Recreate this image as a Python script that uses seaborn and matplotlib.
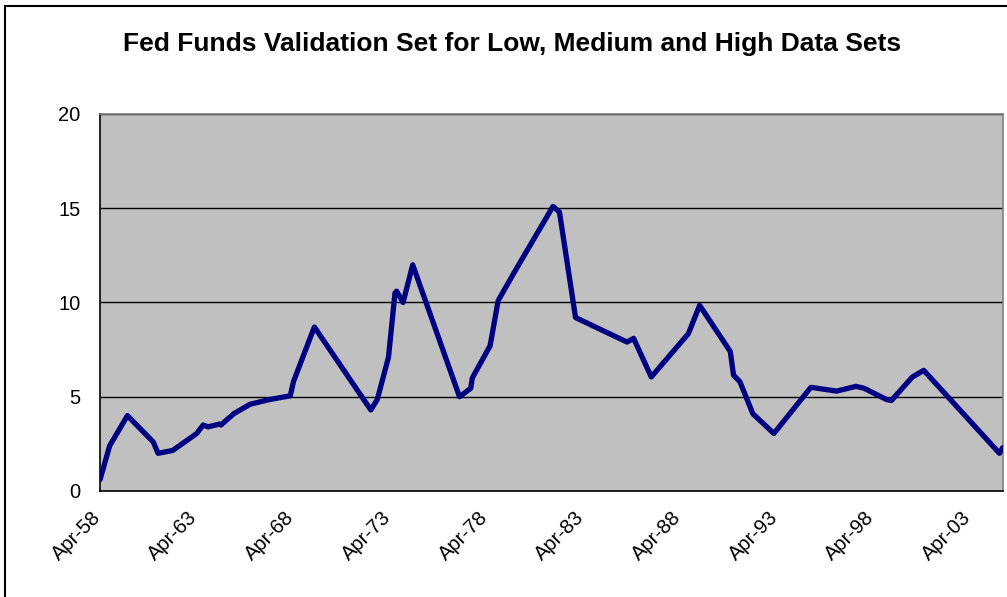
import pandas as pd
import numpy as np
import matplotlib
matplotlib.use('Agg')
import matplotlib.pyplot as plt
import matplotlib.dates as mdates
from matplotlib.patches import Rectangle
from matplotlib.transforms import ScaledTranslation
import seaborn as sns

# Fed funds readings (month, rate %)
months = [
    '1958-04', '1958-10', '1959-09', '1961-01', '1961-04', '1962-01',
    '1963-04', '1963-08', '1963-11', '1964-06', '1964-07', '1965-03',
    '1966-01', '1967-01', '1968-02', '1968-04', '1969-05', '1972-04',
    '1972-08', '1973-03', '1973-07', '1973-08', '1973-12', '1974-06',
    '1976-11', '1977-06', '1977-07', '1978-06', '1978-11', '1979-09',
    '1981-09', '1982-01', '1982-11', '1985-07', '1985-11', '1986-10',
    '1988-09', '1989-04', '1990-11', '1991-01', '1991-05', '1992-01',
    '1993-02', '1995-01', '1996-05', '1997-05', '1997-10', '1998-12',
    '1999-03', '2000-04', '2000-11', '2004-10', '2004-12',
]
rates = [
    0.6, 2.4, 4.0, 2.6, 2.0, 2.15,
    3.05, 3.5, 3.4, 3.55, 3.5, 4.1,
    4.6, 4.85, 5.05, 5.8, 8.7, 4.3,
    4.85, 7.1, 10.5, 10.6, 10.0, 12.0,
    5.0, 5.45, 6.0, 7.7, 10.1, 11.6,
    15.1, 14.8, 9.2, 7.9, 8.1, 6.05,
    8.35, 9.85, 7.4, 6.15, 5.8, 4.1,
    3.05, 5.5, 5.3, 5.55, 5.45, 4.85,
    4.8, 6.05, 6.4, 2.0, 2.3,
]
tick_years = [1958, 1963, 1968, 1973, 1978, 1983, 1988, 1993, 1998, 2003]
y_ticks = [0, 5, 10, 15, 20]

df = pd.DataFrame({'date': pd.to_datetime(months), 'rate': rates})

sns.set_style('white')
plt.rcParams['font.family'] = ['Liberation Sans', 'DejaVu Sans']
plt.rcParams['text.color'] = 'black'

fig = plt.figure(figsize=(10.07, 5.97), dpi=100)
ax = fig.add_axes([100 / 1007, 1 - 491 / 597, 902.7 / 1007, 377 / 597])
ax.set_facecolor('#C0C0C0')

# outer chart border (cut off on right / bottom like the screenshot)
fig.patches.append(Rectangle((5 / 1007, -0.05), 1.1, 1 - 6 / 597 + 0.05,
                             transform=fig.transFigure, fill=False,
                             edgecolor='black', linewidth=1.5, zorder=0))

for v in y_ticks[1:]:
    ax.axhline(v, color='black', linewidth=1.0, zorder=1)

sns.lineplot(data=df, x='date', y='rate', ax=ax, color='#000080',
             linewidth=3.8, zorder=3)

ax.set_xlim(pd.Timestamp('1958-04-01'), pd.Timestamp('2004-12-01'))
ax.set_ylim(0, 20)
ax.set_yticks(y_ticks)
ax.set_xticks([pd.Timestamp(f'{y}-04-01') for y in tick_years])
ax.xaxis.set_major_formatter(mdates.DateFormatter('%b-%y'))

ax.tick_params(axis='both', which='major', direction='out', length=6,
               width=1, color='black', labelsize=14.5, labelcolor='black')
ax.tick_params(axis='y', pad=8)
ax.tick_params(axis='x', pad=6)

shift = ScaledTranslation(-9 / 100, 0, fig.dpi_scale_trans)
for lab in ax.get_xticklabels():
    lab.set_rotation(45)
    lab.set_ha('right')
    lab.set_rotation_mode('anchor')
    lab.set_transform(lab.get_transform() + shift)

ax.set_xlabel('')
ax.set_ylabel('')

for side in ['left', 'bottom']:
    ax.spines[side].set_color('black')
    ax.spines[side].set_linewidth(1.2)
for side in ['top', 'right']:
    ax.spines[side].set_color('#808080')
    ax.spines[side].set_linewidth(1.2)

fig.text(512 / 1007, 1 - 51 / 597,
         'Fed Funds Validation Set for Low, Medium and High Data Sets',
         ha='center', va='baseline', fontsize=19, fontweight='bold',
         color='black')

fig.savefig('out.png', dpi=100)
